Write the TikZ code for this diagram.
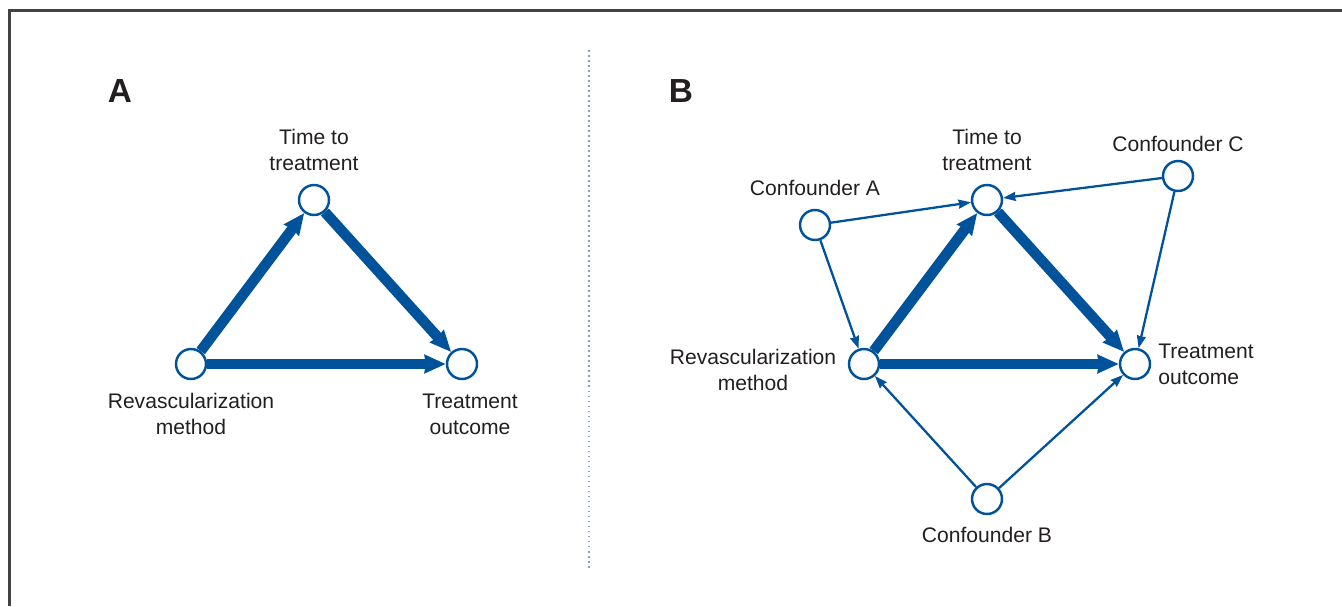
\documentclass[tikz,border=0pt]{standalone}
\usepackage{fontspec}
\setmainfont{Liberation Sans}
\usetikzlibrary{arrows.meta}

\definecolor{pathblue}{HTML}{00539B}
\definecolor{dotblue}{HTML}{7FA3C6}
\definecolor{inkgray}{HTML}{231F20}

\begin{document}
\begin{tikzpicture}[x=0.02cm, y=-0.02cm,
	var/.style={circle, draw=pathblue, line width=1.4pt, fill=white, minimum size=0.6cm, inner sep=0pt},
	txt/.style={text=inkgray, font=\fontsize{12}{14.8}\selectfont, align=center, inner sep=0pt},
	panel/.style={text=inkgray, font=\fontsize{19}{22}\selectfont\bfseries, inner sep=0pt},
	strong/.style={draw=pathblue, line width=6pt, -{Stealth[length=0.42cm, width=0.36cm, inset=0.6pt]}},
	weak/.style={draw=pathblue, line width=1.3pt, -{Stealth[length=0.25cm, width=0.18cm, inset=0.6pt]}}]

% canvas %{{{2

	\useasboundingbox (0,0) rectangle (1342,606);

	\coordinate (FB) at (9.5,606);
	\coordinate (FC) at (9.5,10.5);
	\coordinate (FR) at (1342,10.5);

	\draw[inkgray!85, line width=1.4pt] (FB) -- (FC) -- (FR);

	\coordinate (D1) at (589,50);
	\coordinate (D2) at (589,570);

	\draw[dotblue, line width=1.1pt, dash pattern=on 1pt off 1.85pt] (D1) -- (D2);

% panel A nodes %{{{2

	\node[panel] (titleA) at (120,91) {A};

	\node[var] (timeA) at (314,200) {};
	\node[var] (revA) at (191,364) {};
	\node[var] (outA) at (462,364) {};

	\node[txt] (timeAlbl) at (314,150) {Time to\\treatment};
	\node[txt] (revAlbl) at (191,414) {Revascularization\\method};
	\node[txt] (outAlbl) at (470,414) {Treatment\\outcome};

% panel A arrows %{{{2

	\draw[strong] (revA) -- (timeA);
	\draw[strong] (timeA) -- (outA);
	\draw[strong] (revA) -- (outA);

% panel B nodes %{{{2

	\node[panel] (titleB) at (681,91) {B};

	\node[var] (timeB) at (987,200) {};
	\node[var] (revB) at (864,364) {};
	\node[var] (outB) at (1135,364) {};
	\node[var] (confA) at (815,225) {};
	\node[var] (confB) at (987,499) {};
	\node[var] (confC) at (1178,176) {};

	\node[txt] (timeBlbl) at (987,150) {Time to\\treatment};
	\node[txt] (revBlbl) at (753,370) {Revascularization\\method};
	\node[txt, align=left, anchor=west] (outBlbl) at (1158,364) {Treatment\\outcome};
	\node[txt] (confAlbl) at (815,188) {Confounder A};
	\node[txt] (confBlbl) at (987,535) {Confounder B};
	\node[txt] (confClbl) at (1178,144) {Confounder C};

% panel B arrows %{{{2

	\draw[strong] (revB) -- (timeB);
	\draw[strong] (timeB) -- (outB);
	\draw[strong] (revB) -- (outB);

	\draw[weak] (confA) -- (timeB);
	\draw[weak] (confA) -- (revB);
	\draw[weak] (confC) -- (timeB);
	\draw[weak] (confC) -- (outB);
	\draw[weak] (confB) -- (revB);
	\draw[weak] (confB) -- (outB);

% closing %{{{2

\end{tikzpicture}
\end{document}
